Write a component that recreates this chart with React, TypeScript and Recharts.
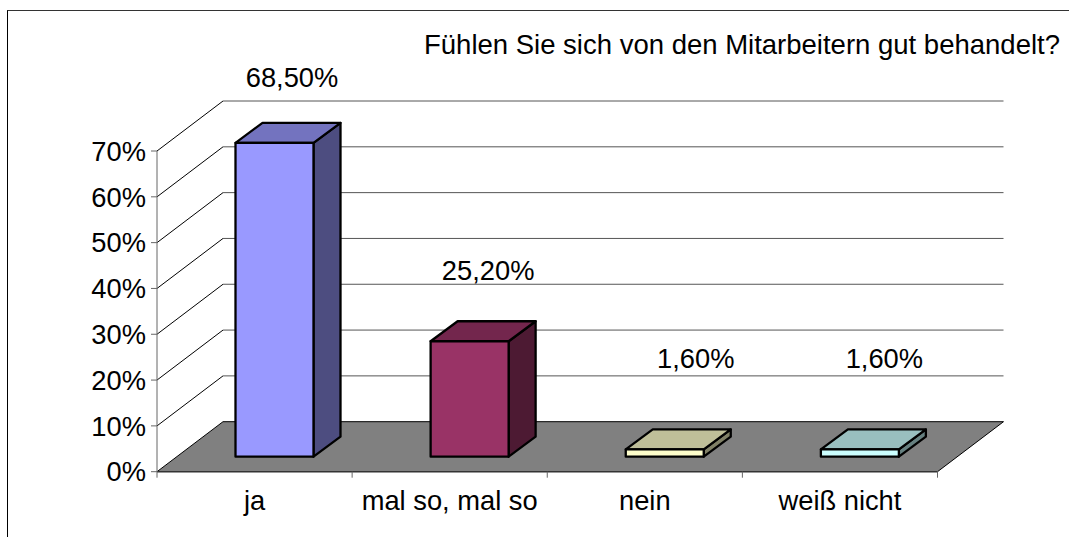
import { BarChart, Bar, XAxis, YAxis, CartesianGrid, LabelList } from "recharts";

const kategorien = ["ja", "mal so, mal so", "nein", "weiß nicht"];
const anteile = [68.5, 25.2, 1.6, 1.6];
const beschriftungen = ["68,50%", "25,20%", "1,60%", "1,60%"];
const yTicks = [0, 10, 20, 30, 40, 50, 60, 70];

const frontFarben = ["#9999FF", "#993366", "#FFFFCC", "#CCFFFF"];
const deckelFarben = ["#7373BF", "#73264D", "#BFBF99", "#99BFBF"];
const seitenFarben = ["#4D4D80", "#4D1A33", "#808066", "#668080"];

const daten = kategorien.map((name, i) => ({ name, wert: anteile[i], label: beschriftungen[i] }));

// perspective of the fake 3D: wall depth, bar plane inside the floor, bar depth
const WAND_X = 66;
const WAND_Y = 50;
const BALKEN_DX = 19.5;
const BALKEN_DY = 15;
const TIEFE_X = 27;
const TIEFE_Y = 20;
// data labels were moved by hand in the original
const LABEL_VERSATZ = [
  [17.5, -64.8],
  [18.5, -69.8],
  [31, -90.5],
  [24.5, -90.5],
];
const SCHRIFT = "'Liberation Sans', Arial, sans-serif";
const GROESSE = 27.3;

function Gitterlinie(props: any) {
  const { x1, x2, y1, index } = props;
  const boden = index === 0;
  return (
    <g>
      {boden && (
        <path
          d={`M${x1},${y1} L${x1 + WAND_X},${y1 - WAND_Y} L${x2 + WAND_X},${y1 - WAND_Y} L${x2},${y1} Z`}
          fill="#808080"
        />
      )}
      <line x1={x1} y1={y1} x2={x1 + WAND_X} y2={y1 - WAND_Y} stroke="#000" strokeWidth={1} />
      <line
        x1={x1 + WAND_X}
        y1={y1 - WAND_Y}
        x2={x2 + WAND_X}
        y2={y1 - WAND_Y}
        stroke={boden ? "#000" : "#555"}
        strokeWidth={1}
      />
      {boden && <line x1={x2} y1={y1} x2={x2 + WAND_X} y2={y1 - WAND_Y} stroke="#000" strokeWidth={1} />}
    </g>
  );
}

function Balken3D(props: any) {
  const { x, y, width, height, index } = props;
  const l = x + BALKEN_DX;
  const r = l + width;
  const t = y - BALKEN_DY;
  const b = t + height;
  return (
    <g stroke="#000" strokeWidth={2.3} strokeLinejoin="round">
      <path d={`M${r},${t} L${r + TIEFE_X},${t - TIEFE_Y} L${r + TIEFE_X},${b - TIEFE_Y} L${r},${b} Z`} fill={seitenFarben[index]} />
      <path d={`M${l},${t} L${l + TIEFE_X},${t - TIEFE_Y} L${r + TIEFE_X},${t - TIEFE_Y} L${r},${t} Z`} fill={deckelFarben[index]} />
      <rect x={l} y={t} width={width} height={height} fill={frontFarben[index]} />
    </g>
  );
}

function KategorieTick(props: any) {
  const { x, width, visibleTicksCount, payload, index, y } = props;
  const band = width / visibleTicksCount;
  const left = x - band / 2;
  const achse = 471.7;
  return (
    <g>
      <line x1={left} y1={achse} x2={left} y2={achse + 6} stroke="#666" />
      {index === visibleTicksCount - 1 && <line x1={left + band} y1={achse} x2={left + band} y2={achse + 6} stroke="#666" />}
      <text x={x} y={y + 32} textAnchor="middle" fontSize={GROESSE} fontFamily={SCHRIFT} fill="#000">
        {payload.value}
      </text>
    </g>
  );
}

function WertLabel(props: any) {
  const { x, y, width, index, value } = props;
  const [dx, dy] = LABEL_VERSATZ[index];
  return (
    <text
      x={x + width / 2 + BALKEN_DX + dx}
      y={y - BALKEN_DY + dy + 9}
      textAnchor="middle"
      fontSize={GROESSE}
      fontFamily={SCHRIFT}
      fill="#000"
    >
      {value}
    </text>
  );
}

export default function App() {
  return (
    <div style={{ position: "absolute", left: 0, top: 0, width: 1069, height: 537, overflow: "hidden", background: "#fff" }}>
      <div style={{ position: "absolute", left: 7, top: 10, width: 1062, height: 527, borderLeft: "1px solid #000", borderTop: "1px solid #333" }} />
      <div
        style={{
          position: "absolute",
          left: 424,
          top: 30,
          fontFamily: SCHRIFT,
          fontSize: 27.5,
          lineHeight: "30px",
          whiteSpace: "nowrap",
          color: "#000",
        }}
      >
        Fühlen Sie sich von den Mitarbeitern gut behandelt?
      </div>
      <BarChart
        width={1069}
        height={537}
        data={daten}
        margin={{ top: 151, right: 131.5, bottom: 0, left: 97 }}
        barSize={78}
        style={{ position: "absolute", left: 0, top: 0 }}
      >
        <CartesianGrid vertical={false} horizontal={(p: any) => <Gitterlinie key={p.index} {...p} />} />
        <XAxis
          dataKey="name"
          axisLine={{ stroke: "#333", strokeWidth: 1.5 }}
          tickLine={false}
          height={65.3}
          interval={0}
          tick={<KategorieTick />}
          tickMargin={0}
        />
        <YAxis
          width={60}
          domain={[0, 70]}
          ticks={yTicks}
          interval={0}
          tickFormatter={(v: number) => `${v}%`}
          axisLine={{ stroke: "#666" }}
          tickLine={{ stroke: "#666" }}
          tickSize={6}
          tickMargin={5}
          tick={{ fill: "#000", fontSize: GROESSE, fontFamily: SCHRIFT }}
        />
        <Bar dataKey="wert" isAnimationActive={false} shape={<Balken3D />}>
          <LabelList dataKey="label" content={<WertLabel />} />
        </Bar>
      </BarChart>
    </div>
  );
}
